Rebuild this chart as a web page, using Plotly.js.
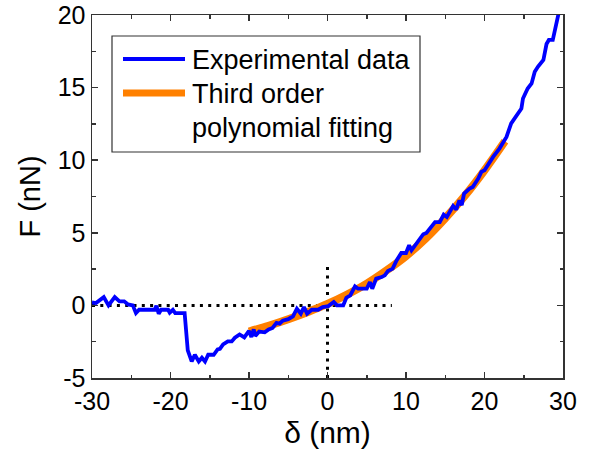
<!DOCTYPE html>
<html>
<head>
<meta charset="utf-8">
<script src="https://cdn.plot.ly/plotly-3.0.1.min.js"></script>
<style>html,body{margin:0;padding:0;background:#fff;}#chart{width:591px;height:456px;}</style>
</head>
<body>
<div id="chart"></div>
<script>
// Experimental data (delta in nm, F in nN)
const expX = [-30.0,-29.5,-28.5,-27.9,-27.1,-26.5,-25.9,-25.4,-24.8,-24.4,-24.0,-22.0,-21.8,-21.5,-21.2,-20.3,-20.1,-19.7,-19.4,-18.2,
  -17.8,-17.3,-16.9,-16.4,-16.0,-15.6,-15.2,-14.5,-14.0,-13.7,-13.3,-12.7,-12.2,-11.8,-11.2,-10.6,-10.0,-9.7,-9.4,-9.2,
  -8.7,-8.0,-7.5,-7.0,-6.5,-6.1,-5.7,-5.0,-4.4,-3.9,-3.4,-3.0,-2.6,-2.0,-1.2,-0.6,0.1,0.8,1.2,2.0,
  2.4,2.9,3.5,3.9,5.0,5.4,5.7,6.2,6.9,7.3,7.7,8.3,8.8,9.4,10.0,10.4,10.7,11.3,12.2,12.6,
  13.0,13.7,14.3,14.8,15.2,15.6,16.0,16.4,16.8,17.1,17.4,18.1,18.5,19.2,19.6,20.0,20.5,21.1,21.9,22.8,
  23.4,24.1,24.7,24.9,25.5,26.0,26.4,26.8,27.5,27.9,28.2,28.7,29.1,29.4,29.8];
const expF = [0.2,0.16,0.57,0.0,0.57,0.28,0.28,0.07,0.0,-0.53,-0.3,-0.3,-0.02,-0.57,-0.3,-0.3,-0.5,-0.3,-0.53,-0.53,
  -3.1,-3.86,-3.4,-3.86,-3.6,-3.86,-3.4,-3.4,-3.03,-2.99,-2.69,-2.48,-2.48,-2.23,-2.0,-2.2,-1.75,-2.18,-1.65,-2.1,
  -1.8,-1.85,-1.65,-1.55,-1.2,-1.26,-1.05,-0.95,-0.75,-0.23,-0.57,-0.11,-0.57,-0.3,-0.3,-0.11,-0.05,0.23,0.0,0.0,
  0.53,0.69,1.31,1.15,1.15,1.61,1.15,1.84,1.95,2.07,2.37,2.53,3.1,3.61,3.61,4.14,3.79,4.25,4.9,4.99,
  5.29,5.74,5.74,6.25,6.09,6.43,6.85,6.6,7.24,6.9,7.7,8.05,8.16,8.74,9.2,9.31,9.77,10.23,10.8,11.6,
  12.53,13.1,13.56,14.25,14.94,15.29,16.09,16.43,16.9,18.0,18.28,18.28,19.3,20.0,21.0];

// Third order polynomial fit
const fitX = [-10,-7.5,-5,-2.5,0,2.5,5,7.5,10,12.5,15,17.5,20,22.6];
const fitF = [-1.8,-1.4,-0.95,-0.45,0.1,0.75,1.5,2.4,3.4,4.6,6.0,7.55,9.3,11.3];

// Dotted reference lines
const hRefX = [-30, 8.2];
const hRefY = [0, 0];
const vRefX = [0, 0];
const vRefY = [-5, 3];

const xTicks = [-30,-20,-10,0,10,20,30];
const yTicks = [-5,0,5,10,15,20];

// Legend entries
const seriesNames = ['Experimental data', 'Third order', 'polynomial fitting'];
const seriesColors = ['#0000FF', '#FF8000'];

const axisColor = '#333333';
const font = 'Liberation Sans, Arial, sans-serif';

const traces = [
  {x: hRefX, y: hRefY, mode: 'lines', showlegend: false, hoverinfo: 'skip',
   line: {color: '#000', width: 3, dash: '3px,5.3px'}},
  {x: vRefX, y: vRefY, mode: 'lines', showlegend: false, hoverinfo: 'skip',
   line: {color: '#000', width: 3, dash: '3px,5.3px'}},
  {x: fitX, y: fitF, mode: 'lines', name: seriesNames[1] + ' ' + seriesNames[2], showlegend: false,
   line: {color: seriesColors[1], width: 8, shape: 'spline'}},
  {x: expX, y: expF, mode: 'lines', name: seriesNames[0], showlegend: false,
   line: {color: seriesColors[0], width: 3.8}}
];

const axisCommon = {
  showgrid: false, zeroline: false, showline: true, linecolor: axisColor, linewidth: 1.5,
  mirror: 'allticks', ticks: 'inside', ticklen: 6, tickwidth: 1.5, tickcolor: axisColor,
  tickfont: {family: font, size: 25, color: '#000'}
};

// legend frame in pixel terms converted to paper fractions of the plot area
const plotL = 92, plotT = 15, plotW = 471, plotH = 363;
const px = v => (v - plotL) / plotW;
const py = v => (plotT + plotH - v) / plotH;

const shapes = [
  {type: 'rect', xref: 'paper', yref: 'paper', x0: px(112), x1: px(420), y0: py(152), y1: py(36),
   line: {color: axisColor, width: 1.2}, fillcolor: '#fff', layer: 'above'},
  {type: 'line', xref: 'paper', yref: 'paper', x0: px(123), x1: px(185), y0: py(59), y1: py(59),
   line: {color: seriesColors[0], width: 4}, layer: 'above'},
  {type: 'line', xref: 'paper', yref: 'paper', x0: px(123), x1: px(185), y0: py(93), y1: py(93),
   line: {color: seriesColors[1], width: 7}, layer: 'above'}
];

const legFont = {family: font, size: 27, color: '#000'};
const annotations = [
  {xref: 'paper', yref: 'paper', x: px(190), y: py(60), xanchor: 'left', yanchor: 'middle',
   text: seriesNames[0], showarrow: false, font: legFont},
  {xref: 'paper', yref: 'paper', x: px(190), y: py(94), xanchor: 'left', yanchor: 'middle',
   text: seriesNames[1], showarrow: false, font: legFont},
  {xref: 'paper', yref: 'paper', x: px(190), y: py(128), xanchor: 'left', yanchor: 'middle',
   text: seriesNames[2], showarrow: false, font: legFont}
];

const layout = {
  width: 591, height: 456,
  margin: {l: plotL, r: 591 - plotL - plotW, t: plotT, b: 456 - plotT - plotH},
  paper_bgcolor: '#fff', plot_bgcolor: '#fff',
  font: {family: font, color: '#000'},
  showlegend: false,
  shapes: shapes,
  annotations: annotations,
  xaxis: Object.assign({}, axisCommon, {
    range: [-30, 30], tickvals: xTicks, ticktext: xTicks.map(String),
    minor: {dtick: 5, tick0: 0, ticks: 'inside', ticklen: 3.5, tickwidth: 1.5, tickcolor: axisColor},
    title: {text: 'δ (nm)', font: {family: font, size: 30, color: '#000'}, standoff: 8}
  }),
  yaxis: Object.assign({}, axisCommon, {
    range: [-5, 20], tickvals: yTicks, ticktext: yTicks.map(String),
    minor: {dtick: 2.5, tick0: 0, ticks: 'inside', ticklen: 3.5, tickwidth: 1.5, tickcolor: axisColor},
    title: {text: 'F (nN)', font: {family: font, size: 29, color: '#000'}, standoff: 8}
  })
};

Plotly.newPlot('chart', traces, layout, {staticPlot: true, displayModeBar: false});
</script>
</body>
</html>
